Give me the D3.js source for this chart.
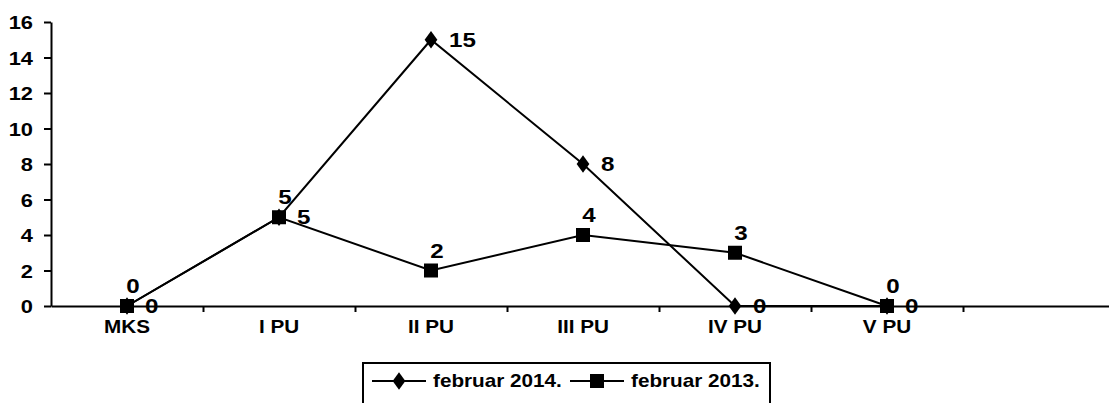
<!DOCTYPE html>
<html lang="en">
<head>
    <meta charset="UTF-8">
    <title>februar 2014 / 2013</title>
    <style>
        body { margin: 0; background: #fff; }
        text { font-family: "Liberation Sans", Arial, sans-serif; font-weight: bold; fill: #000; }
    </style>
</head>
<body>
    <div id="chart"></div>

    <script src="https://cdn.jsdelivr.net/npm/d3@7"></script>
    <script>
        // data
        const categories = ["MKS", "I PU", "II PU", "III PU", "IV PU", "V PU", ""];
        const feb2014 = [0, 5, 15, 8, 0, 0];
        const feb2013 = [0, 5, 2, 4, 3, 0];
        const yTicks = [0, 2, 4, 6, 8, 10, 12, 14, 16];
        const seriesNames = ["februar 2014.", "februar 2013."];

        const W = 1109, H = 403;
        const sx = 1.15; // text in the original is a bit wide

        const svg = d3.select("#chart").append("svg").attr("width", W).attr("height", H);

        const x = d3.scaleBand().domain(categories).range([51, 51 + 152 * categories.length]);
        const y = d3.scaleLinear().domain([0, 16]).range([306, 22]);
        const xEdge = d3.scaleLinear().domain([0, categories.length]).range(x.range());

        function wideText(sel, px, py) {
            sel.attr("x", 0).attr("y", 0)
               .attr("transform", "translate(" + px + "," + py + ") scale(" + sx + ",1)");
        }

        // y axis
        const gy = svg.append("g").attr("transform", "translate(51,0)")
            .call(d3.axisLeft(y).tickValues(yTicks).tickSize(7).tickSizeOuter(0));
        gy.select(".domain").attr("stroke-width", 2);
        gy.selectAll(".tick line").attr("stroke-width", 2);
        gy.selectAll(".tick text")
            .attr("font-size", 19)
            .attr("text-anchor", "end")
            .attr("dy", null)
            .attr("dominant-baseline", "central")
            .each(function () { wideText(d3.select(this), -18, 0); });

        // x axis: tick marks on category edges, labels in the middle
        const gx = svg.append("g").attr("transform", "translate(0,306)")
            .call(d3.axisBottom(xEdge).tickValues(d3.range(1, categories.length + 1)).tickSize(6).tickSizeOuter(0).tickFormat(""));
        gx.select(".domain").attr("stroke-width", 2);
        gx.selectAll(".tick line").attr("stroke-width", 2);

        svg.append("g").selectAll("text")
            .data(categories.filter(c => c !== ""))
            .join("text")
            .attr("font-size", 18)
            .attr("text-anchor", "middle")
            .each(function (d) { wideText(d3.select(this), x(d) + x.bandwidth() / 2, 333); })
            .text(d => d);

        const cx = (i) => x(categories[i]) + x.bandwidth() / 2;
        const line = d3.line().x((d, i) => cx(i)).y(d => y(d));

        // lines
        [feb2014, feb2013].forEach(s => {
            svg.append("path").datum(s)
                .attr("d", line)
                .attr("fill", "none")
                .attr("stroke", "#000")
                .attr("stroke-width", 2);
        });

        // markers
        const diamond = d3.symbol().type(d3.symbolDiamond).size(90);
        svg.append("g").selectAll("path")
            .data(feb2014)
            .join("path")
            .attr("d", diamond)
            .attr("transform", (d, i) => "translate(" + cx(i) + "," + y(d) + ") scale(1.25,1)")
            .attr("fill", "#000");

        svg.append("g").selectAll("rect")
            .data(feb2013)
            .join("rect")
            .attr("x", (d, i) => cx(i) - 7)
            .attr("y", d => y(d) - 7)
            .attr("width", 14)
            .attr("height", 14)
            .attr("fill", "#000");

        // data labels: 2014 to the right, 2013 above
        svg.append("g").selectAll("text")
            .data(feb2014)
            .join("text")
            .attr("font-size", 21)
            .attr("text-anchor", "start")
            .attr("dominant-baseline", "central")
            .each(function (d, i) { wideText(d3.select(this), cx(i) + 18, y(d)); })
            .text(d => d);

        svg.append("g").selectAll("text")
            .data(feb2013)
            .join("text")
            .attr("font-size", 21)
            .attr("text-anchor", "middle")
            .each(function (d, i) { wideText(d3.select(this), cx(i) + 6, y(d) - 13); })
            .text(d => d);

        // legend
        const lg = svg.append("g");
        lg.append("rect")
            .attr("x", 363).attr("y", 363)
            .attr("width", 407).attr("height", 60)
            .attr("fill", "#fff").attr("stroke", "#000").attr("stroke-width", 2);

        const legendX = [372, 570];
        seriesNames.forEach((name, i) => {
            const lx = legendX[i], ly = 381;
            lg.append("line")
                .attr("x1", lx).attr("x2", lx + 54)
                .attr("y1", ly).attr("y2", ly)
                .attr("stroke", "#000").attr("stroke-width", 2);
            if (i === 0) {
                lg.append("path").attr("d", diamond)
                    .attr("transform", "translate(" + (lx + 27) + "," + ly + ") scale(1.25,1)")
                    .attr("fill", "#000");
            } else {
                lg.append("rect")
                    .attr("x", lx + 20).attr("y", ly - 7)
                    .attr("width", 14).attr("height", 14)
                    .attr("fill", "#000");
            }
            lg.append("text")
                .attr("font-size", 18)
                .attr("dominant-baseline", "central")
                .each(function () { wideText(d3.select(this), lx + 61, ly); })
                .text(name);
        });
    </script>
</body>
</html>
